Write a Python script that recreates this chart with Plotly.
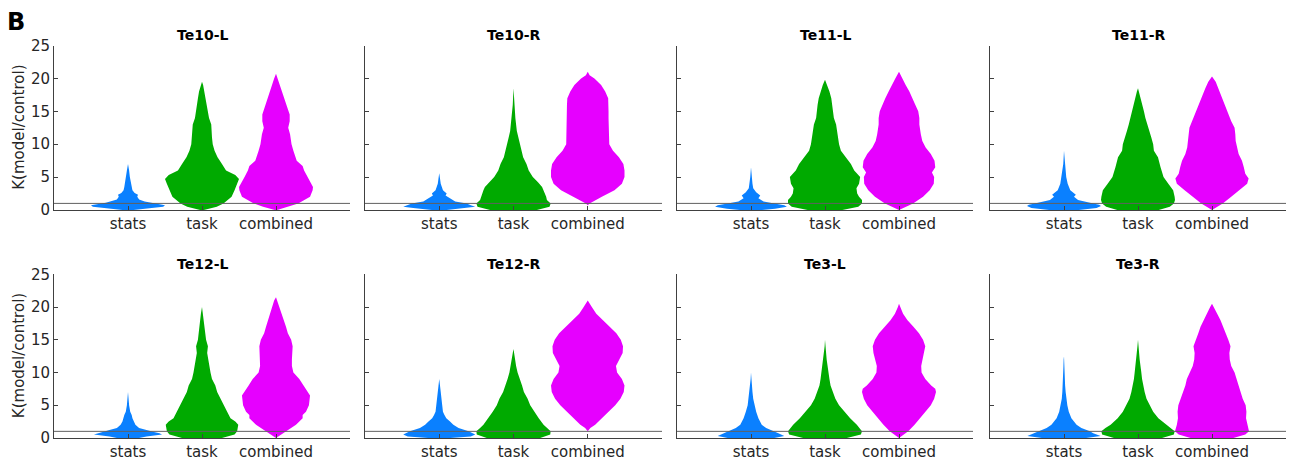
import plotly.graph_objects as go

# ---------------- data ----------------
categories = ["stats", "task", "combined"]
regions = ["Te10-L", "Te10-R", "Te11-L", "Te11-R", "Te12-L", "Te12-R", "Te3-L", "Te3-R"]
y_ticks = [0, 5, 10, 15, 20, 25]
threshold = 1

# violin profiles: K levels and relative full width (1 = one category slot)
te10l_stats_y = [0, 0.2, 0.5, 0.7, 0.9, 1.1, 1.3, 1.6, 2.0, 2.3, 2.6, 3.0, 3.5, 4.0, 5.0, 6.0, 7.0]
te10l_stats_w = [0.15, 0.5, 0.95, 1.0, 0.8, 0.6, 0.45, 0.3, 0.25, 0.27, 0.18, 0.12, 0.1, 0.07, 0.05, 0.03, 0.0]
te10l_task_y = [0, 0.5, 1, 2, 3, 4, 4.7, 5.3, 6, 7, 8, 9, 10, 11, 12, 13, 14, 15, 16, 17, 18, 19, 19.5]
te10l_task_w = [0.05, 0.4, 0.58, 0.8, 0.88, 0.95, 1.0, 0.9, 0.65, 0.54, 0.42, 0.34, 0.29, 0.27, 0.26, 0.25, 0.19, 0.16, 0.14, 0.11, 0.08, 0.03, 0]
te10l_comb_y = [0, 0.5, 1, 2, 3, 3.5, 4, 5, 6, 6.7, 7.5, 9, 10, 11.5, 12.5, 13.5, 14.5, 15.5, 17, 18, 19, 20, 20.7]
te10l_comb_w = [0.03, 0.35, 0.6, 0.92, 0.99, 1.0, 0.95, 0.85, 0.76, 0.72, 0.56, 0.47, 0.42, 0.38, 0.33, 0.37, 0.37, 0.31, 0.22, 0.17, 0.11, 0.05, 0]

te10r_stats_y = [0, 0.3, 0.5, 0.7, 1.0, 1.3, 1.8, 2.2, 2.5, 3.0, 4.0, 5.0, 5.6]
te10r_stats_w = [0.2, 0.7, 0.97, 0.85, 0.74, 0.43, 0.3, 0.17, 0.2, 0.1, 0.04, 0.015, 0]
te10r_task_y = [0, 0.5, 1, 1.5, 2, 3, 3.5, 4.2, 5, 6, 7, 8, 9, 10, 11, 12, 14, 16, 18.5]
te10r_task_w = [0.63, 0.97, 1.0, 0.9, 0.88, 0.81, 0.77, 0.66, 0.52, 0.41, 0.35, 0.26, 0.22, 0.18, 0.13, 0.09, 0.05, 0.02, 0]
te10r_comb_y = [0.7, 1, 2, 3, 4, 5, 6, 7, 8, 9, 10, 11, 12, 13, 14, 15, 16, 17, 18, 19, 20, 20.5, 21]
te10r_comb_w = [0, 0.05, 0.38, 0.72, 0.92, 0.99, 0.99, 0.96, 0.84, 0.68, 0.58, 0.57, 0.58, 0.57, 0.56, 0.56, 0.56, 0.55, 0.47, 0.36, 0.18, 0.05, 0]

te11l_stats_y = [0, 0.2, 0.5, 0.7, 1.0, 1.3, 1.8, 2.2, 2.7, 3.3, 4.0, 5.0, 6.5]
te11l_stats_w = [0.3, 0.65, 0.97, 0.9, 0.63, 0.34, 0.2, 0.25, 0.14, 0.06, 0.04, 0.02, 0]
te11l_task_y = [0, 0.5, 1, 1.5, 2, 2.5, 3.3, 4, 5, 6, 7, 8, 9, 10, 11, 12, 13, 14, 15, 16, 17, 18, 19, 19.8]
te11l_task_w = [0.47, 0.9, 1.0, 1.0, 0.92, 0.87, 0.85, 0.92, 0.95, 0.79, 0.7, 0.56, 0.43, 0.38, 0.35, 0.32, 0.3, 0.24, 0.22, 0.2, 0.17, 0.12, 0.06, 0]
te11l_comb_y = [0, 1, 2, 3, 4, 5, 5.7, 6.5, 7.5, 8.5, 9.5, 10.5, 11.5, 13, 14, 15, 16, 17, 18, 19, 20, 21]
te11l_comb_w = [0, 0.38, 0.65, 0.83, 0.94, 0.95, 0.89, 0.98, 0.96, 0.86, 0.72, 0.63, 0.59, 0.55, 0.55, 0.52, 0.44, 0.37, 0.28, 0.18, 0.1, 0]

te11r_stats_y = [0, 0.3, 0.6, 0.8, 1.0, 1.5, 2.0, 2.3, 3.0, 4.0, 5.0, 7.0, 9.0]
te11r_stats_w = [0.4, 0.88, 1.0, 0.95, 0.79, 0.38, 0.27, 0.32, 0.17, 0.1, 0.06, 0.02, 0]
te11r_task_y = [0, 0.5, 1, 1.5, 2, 3, 4, 5, 6.5, 8, 9, 10, 11, 12, 13, 14, 15, 16, 17, 18, 18.5]
te11r_task_w = [0.56, 0.86, 0.97, 1.0, 0.99, 0.95, 0.82, 0.69, 0.61, 0.54, 0.43, 0.41, 0.36, 0.3, 0.25, 0.2, 0.16, 0.11, 0.07, 0.03, 0]
te11r_comb_y = [0, 1, 2, 3, 4, 4.8, 5.5, 6.5, 7.5, 8.5, 9.5, 10.5, 11.5, 12.5, 13.5, 14.5, 15.5, 16.5, 17.5, 18.5, 19.5, 20.3]
te11r_comb_w = [0, 0.29, 0.52, 0.74, 0.95, 0.99, 0.9, 0.86, 0.81, 0.72, 0.67, 0.64, 0.63, 0.61, 0.52, 0.45, 0.38, 0.31, 0.25, 0.18, 0.1, 0]

te12l_stats_y = [0, 0.2, 0.5, 0.7, 0.9, 1.2, 1.5, 2, 2.5, 3, 3.5, 4, 5, 7]
te12l_stats_w = [0.3, 0.5, 0.92, 0.85, 0.7, 0.5, 0.3, 0.2, 0.15, 0.12, 0.1, 0.06, 0.03, 0]
te12l_task_y = [0, 0.5, 1, 2, 2.5, 3, 4, 5, 6, 7, 8, 9, 10, 11, 12, 13, 14, 15, 16, 17, 18, 19, 20]
te12l_task_w = [0.54, 0.88, 0.95, 0.98, 0.9, 0.77, 0.68, 0.59, 0.5, 0.41, 0.36, 0.27, 0.23, 0.19, 0.17, 0.14, 0.16, 0.11, 0.09, 0.07, 0.05, 0.03, 0]
te12l_comb_y = [0, 1, 2, 3, 3.5, 4, 5, 6.5, 7, 8, 9, 10, 11, 12, 13, 14, 15, 16, 17, 18, 19, 20, 21, 21.5]
te12l_comb_w = [0, 0.27, 0.54, 0.72, 0.72, 0.81, 0.89, 0.92, 0.86, 0.74, 0.63, 0.47, 0.43, 0.43, 0.44, 0.45, 0.41, 0.32, 0.27, 0.21, 0.16, 0.11, 0.05, 0]

te12r_stats_y = [0, 0.2, 0.5, 1, 1.5, 2, 2.5, 3, 3.5, 4, 5, 6, 7, 8, 9]
te12r_stats_w = [0.3, 0.85, 0.97, 0.79, 0.52, 0.38, 0.29, 0.19, 0.14, 0.1, 0.08, 0.05, 0.04, 0.02, 0]
te12r_task_y = [0, 0.5, 1, 1.5, 2, 3, 4, 5, 6, 7, 8, 9, 10, 11, 12, 13, 13.6]
te12r_task_w = [0.72, 0.99, 1.0, 0.9, 0.81, 0.68, 0.56, 0.45, 0.38, 0.28, 0.23, 0.16, 0.11, 0.07, 0.045, 0.02, 0]
te12r_comb_y = [1, 1.5, 2, 3, 4, 5, 6, 7, 8, 9, 10, 11, 12, 13, 14, 15, 16, 17, 18, 19, 20, 21]
te12r_comb_w = [0, 0.07, 0.2, 0.38, 0.56, 0.74, 0.88, 0.97, 0.99, 0.92, 0.79, 0.76, 0.85, 0.94, 0.95, 0.89, 0.77, 0.59, 0.41, 0.23, 0.11, 0]

te3l_stats_y = [0, 0.3, 0.7, 1, 1.5, 2, 3, 4, 5, 6, 7, 8, 9, 10]
te3l_stats_w = [0.63, 0.9, 0.74, 0.61, 0.41, 0.29, 0.2, 0.14, 0.09, 0.06, 0.04, 0.025, 0.01, 0]
te3l_task_y = [0, 0.5, 1, 1.5, 2, 3, 4, 5, 6, 7, 8, 9, 10, 11, 12, 13, 14, 15]
te3l_task_w = [0.59, 0.97, 1.0, 0.94, 0.86, 0.68, 0.52, 0.38, 0.28, 0.22, 0.15, 0.12, 0.09, 0.06, 0.045, 0.03, 0.01, 0]
te3l_comb_y = [0, 1, 2, 3, 4, 5, 6, 7, 7.5, 8, 9, 10, 11, 12, 13, 14, 15, 16, 17, 18, 19, 20, 20.5]
te3l_comb_w = [0, 0.25, 0.42, 0.57, 0.72, 0.86, 0.95, 1.0, 0.98, 0.87, 0.71, 0.61, 0.6, 0.64, 0.69, 0.71, 0.65, 0.54, 0.39, 0.23, 0.11, 0.03, 0]

te3r_stats_y = [0, 0.3, 0.7, 1, 1.5, 2, 3, 4, 5, 6, 7, 8, 9, 10, 11, 12, 12.5]
te3r_stats_w = [0.6, 0.99, 0.79, 0.7, 0.47, 0.34, 0.2, 0.13, 0.09, 0.06, 0.045, 0.03, 0.025, 0.02, 0.015, 0.01, 0]
te3r_task_y = [0, 0.5, 1, 1.5, 2, 3, 4, 5, 6, 7, 8, 9, 10, 11, 12, 13, 14, 15]
te3r_task_w = [0.65, 0.97, 0.99, 0.88, 0.74, 0.55, 0.41, 0.31, 0.23, 0.18, 0.14, 0.11, 0.09, 0.06, 0.045, 0.03, 0.015, 0]
te3r_comb_y = [0, 0.5, 1, 2, 3, 4, 5, 6, 7, 8, 9, 10, 11, 12, 13, 14, 15, 16, 17, 18, 19, 20, 20.5]
te3r_comb_w = [0.58, 0.9, 1.0, 0.95, 0.92, 0.93, 0.91, 0.83, 0.78, 0.72, 0.68, 0.61, 0.52, 0.48, 0.47, 0.5, 0.44, 0.37, 0.31, 0.23, 0.14, 0.05, 0]

profiles = [
    [(te10l_stats_y, te10l_stats_w), (te10l_task_y, te10l_task_w), (te10l_comb_y, te10l_comb_w)],
    [(te10r_stats_y, te10r_stats_w), (te10r_task_y, te10r_task_w), (te10r_comb_y, te10r_comb_w)],
    [(te11l_stats_y, te11l_stats_w), (te11l_task_y, te11l_task_w), (te11l_comb_y, te11l_comb_w)],
    [(te11r_stats_y, te11r_stats_w), (te11r_task_y, te11r_task_w), (te11r_comb_y, te11r_comb_w)],
    [(te12l_stats_y, te12l_stats_w), (te12l_task_y, te12l_task_w), (te12l_comb_y, te12l_comb_w)],
    [(te12r_stats_y, te12r_stats_w), (te12r_task_y, te12r_task_w), (te12r_comb_y, te12r_comb_w)],
    [(te3l_stats_y, te3l_stats_w), (te3l_task_y, te3l_task_w), (te3l_comb_y, te3l_comb_w)],
    [(te3r_stats_y, te3r_stats_w), (te3r_task_y, te3r_task_w), (te3r_comb_y, te3r_comb_w)],
]

# ---------------- style / layout ----------------
colors = ["#0a80ff", "#00aa00", "#e600ff"]
W, H = 1289, 469
col_px = [(54, 350), (365, 662), (677, 973), (990, 1286)]
row_px = [(38, 209), (276, 446)]  # (top, bottom) in pixels
FONT = "DejaVu Sans"
AX = "#404040"

fig = go.Figure()
layout = dict(width=W, height=H, autosize=False, margin=dict(l=0, r=0, t=0, b=0, pad=0),
              paper_bgcolor="white", plot_bgcolor="white", showlegend=False,
              font=dict(family=FONT, color="#262626"))
shapes, annotations = [], []

for i, reg in enumerate(regions):
    r, c = divmod(i, 4)
    n = i + 1
    xa = "x" if n == 1 else f"x{n}"
    ya = "y" if n == 1 else f"y{n}"
    xl, xr = col_px[c]
    yt, yb = row_px[r]
    xdom = [xl / W, xr / W]
    ydom = [(H - yb) / H, (H - yt) / H]
    key = "" if n == 1 else str(n)
    layout["xaxis" + key] = dict(domain=xdom, anchor=ya, range=[0, 4],
                                 tickvals=[1, 2, 3], ticktext=categories,
                                 ticks="inside", ticklen=4, tickcolor=AX,
                                 showline=True, linecolor=AX, linewidth=1,
                                 showgrid=False, zeroline=False,
                                 tickfont=dict(size=15, family=FONT, color="#262626"))
    layout["yaxis" + key] = dict(domain=ydom, anchor=xa, range=[0, 25],
                                 tickvals=y_ticks, ticks="inside", ticklen=4, tickcolor=AX,
                                 showline=True, linecolor=AX, linewidth=1,
                                 showgrid=False, zeroline=False,
                                 showticklabels=(c == 0),
                                 tickfont=dict(size=15, family=FONT, color="#262626"))
    for k, (ys, ws) in enumerate(profiles[i]):
        cx = k + 1
        xs = [cx + 0.5 * w for w in ws] + [cx - 0.5 * w for w in ws[::-1]]
        yy = list(ys) + list(ys[::-1])
        xs.append(xs[0]); yy.append(yy[0])
        fig.add_trace(go.Scatter(x=xs, y=yy, xaxis=xa, yaxis=ya, mode="lines",
                                 fill="toself", fillcolor=colors[k],
                                 line=dict(width=0, color=colors[k]),
                                 hoverinfo="skip"))
    shapes.append(dict(type="line", xref=f"{xa} domain", yref=ya, x0=0, x1=1,
                       y0=threshold, y1=threshold, line=dict(color="#606060", width=1),
                       layer="above"))
    annotations.append(dict(text=f"<b>{reg}</b>", xref="paper", yref="paper",
                            x=(xl + xr) / 2 / W, y=(H - (yt - 11)) / H,
                            showarrow=False, font=dict(size=14, family=FONT, color="black"),
                            xanchor="center", yanchor="middle"))
    if c == 0:
        annotations.append(dict(text="K(model/control)", xref="paper", yref="paper",
                                x=19 / W, y=(H - (yt + yb) / 2) / H, textangle=-90,
                                showarrow=False, font=dict(size=15, family=FONT, color="#262626"),
                                xanchor="center", yanchor="middle"))

annotations.append(dict(text="<b>B</b>", xref="paper", yref="paper", x=16 / W, y=(H - 14) / H,
                        showarrow=False, font=dict(size=24, family=FONT, color="black"),
                        xanchor="center", yanchor="middle"))
layout["shapes"] = shapes
layout["annotations"] = annotations
fig.update_layout(**layout)

pin_plot = ("var d=document.getElementById('{plot_id}');"
            "d.style.position='fixed';d.style.top='0px';d.style.left='0px';"
            "document.documentElement.style.margin='0';document.body.style.margin='0';"
            "document.documentElement.style.overflow='hidden';document.body.style.overflow='hidden';")
fig.write_html("out.html", config={"responsive": False, "displayModeBar": False},
               post_script=pin_plot)
